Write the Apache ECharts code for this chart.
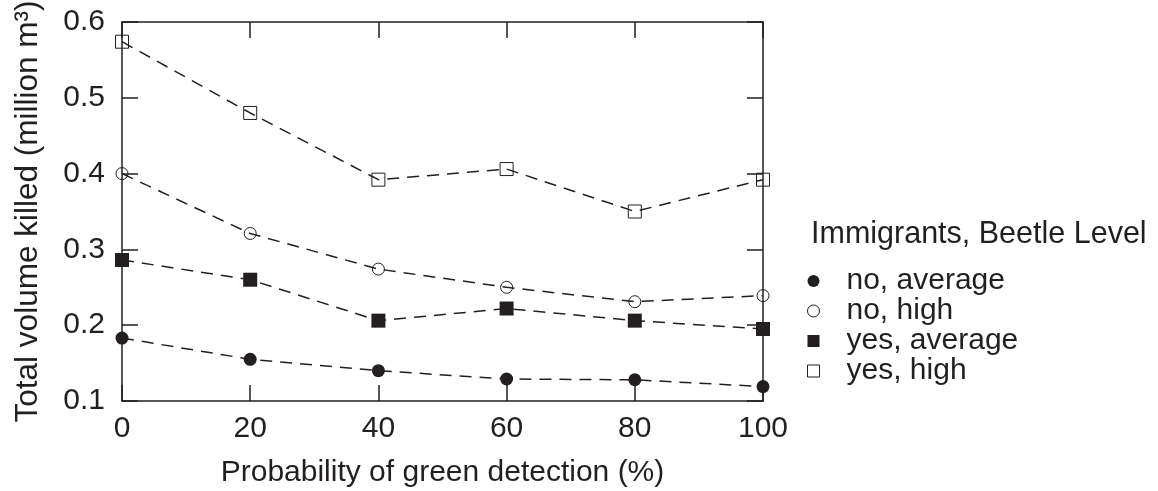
<!DOCTYPE html>
<html><head><meta charset="utf-8">
<script src="https://cdn.jsdelivr.net/npm/echarts@6/dist/echarts.min.js"></script>
<style>html,body{margin:0;padding:0;background:#fff}#c{width:1158px;height:491px}</style>
</head><body><div id="c"></div>
<script>
// ---- data ----
const xValues = [0, 20, 40, 60, 80, 100];
const seriesNames = ['no, average', 'no, high', 'yes, average', 'yes, high'];
const noAverage  = [0.183, 0.155, 0.140, 0.129, 0.128, 0.119];
const noHigh     = [0.400, 0.321, 0.274, 0.250, 0.231, 0.239];
const yesAverage = [0.286, 0.260, 0.206, 0.222, 0.206, 0.195];
const yesHigh    = [0.574, 0.480, 0.392, 0.406, 0.350, 0.392];
const xTitle = 'Probability of green detection (%)';
const yTitle = 'Total volume killed (million m³)';
const legendTitle = 'Immigrants, Beetle Level';

// ---- styles ----
const INK = '#231f20';
const FONT = '"Liberation Sans", Arial, sans-serif';
const seriesValues = [noAverage, noHigh, yesAverage, yesHigh];
const symbols = ['circle', 'circle', 'rect', 'rect'];
const filled = [true, false, true, false];
const sizes = [13, 12, 14, 13];

const series = seriesValues.map((vals, i) => ({
  name: seriesNames[i],
  type: 'line',
  data: xValues.map((x, j) => [x, vals[j]]),
  symbol: symbols[i],
  symbolSize: sizes[i],
  showSymbol: true,
  lineStyle: { color: INK, width: 1.5, type: [12, 8] },
  itemStyle: filled[i]
    ? { color: INK, borderColor: INK, borderWidth: 0 }
    : { color: 'rgba(0,0,0,0)', borderColor: INK, borderWidth: 1 },
  emphasis: { disabled: true },
  animation: false,
  z: 3
}));

function axisLine() { return { show: true, onZero: false, lineStyle: { color: INK, width: 1.5 } }; }
function axisTick() { return { show: true, inside: false, length: -16, lineStyle: { color: INK, width: 1.5 } }; }

const chart = echarts.init(document.getElementById('c'), null, { renderer: 'canvas' });
chart.setOption({
  backgroundColor: '#fff',
  animation: false,
  textStyle: { fontFamily: FONT },
  grid: { left: 122, top: 22, right: 395, bottom: 90, containLabel: false, outerBoundsMode: 'none' },
  title: {
    text: legendTitle, left: 811, top: 219, padding: 0,
    textStyle: { fontFamily: FONT, fontSize: 30.5, fontWeight: 'normal', color: INK }
  },
  legend: {
    orient: 'vertical', left: 807, top: 266, padding: 0, itemGap: 0,
    itemWidth: 12, itemHeight: 12,
    textStyle: { fontFamily: FONT, fontSize: 30, color: INK, lineHeight: 30, padding: [0, 0, 0, 22] },
    data: seriesNames.map((n, i) => ({
      name: n,
      icon: symbols[i],
      itemStyle: filled[i]
        ? { color: INK, borderWidth: 0 }
        : { color: 'rgba(0,0,0,0)', borderColor: INK, borderWidth: 1 }
    })),
    selectedMode: false
  },
  xAxis: [
    {
      type: 'value', position: 'bottom', min: 0, max: 100, interval: 20,
      name: xTitle, nameLocation: 'middle', nameGap: 57,
      nameTextStyle: { fontFamily: FONT, fontSize: 30, color: INK },
      axisLine: axisLine(), axisTick: axisTick(),
      splitLine: { show: false },
      axisLabel: { show: true, fontFamily: FONT, fontSize: 30, color: INK, margin: 13 }
    },
    {
      type: 'value', position: 'top', min: 0, max: 100, interval: 20,
      axisLine: axisLine(), axisTick: axisTick(),
      splitLine: { show: false },
      axisLabel: { show: false }
    }
  ],
  yAxis: [
    {
      type: 'value', position: 'left', min: 0.1, max: 0.6, interval: 0.1,
      name: yTitle, nameLocation: 'middle', nameGap: 78, nameRotate: 90,
      nameTextStyle: { fontFamily: FONT, fontSize: 31.5, color: INK },
      axisLine: axisLine(), axisTick: axisTick(),
      splitLine: { show: false },
      axisLabel: { show: true, fontFamily: FONT, fontSize: 30, color: INK, margin: 17,
        padding: [12, 0, 0, 0],
        formatter: v => (Math.round(v * 10) / 10).toFixed(1) }
    },
    {
      type: 'value', position: 'right', min: 0.1, max: 0.6, interval: 0.1,
      axisLine: axisLine(), axisTick: axisTick(),
      splitLine: { show: false },
      axisLabel: { show: false }
    }
  ],
  series: series
});
</script></body></html>
